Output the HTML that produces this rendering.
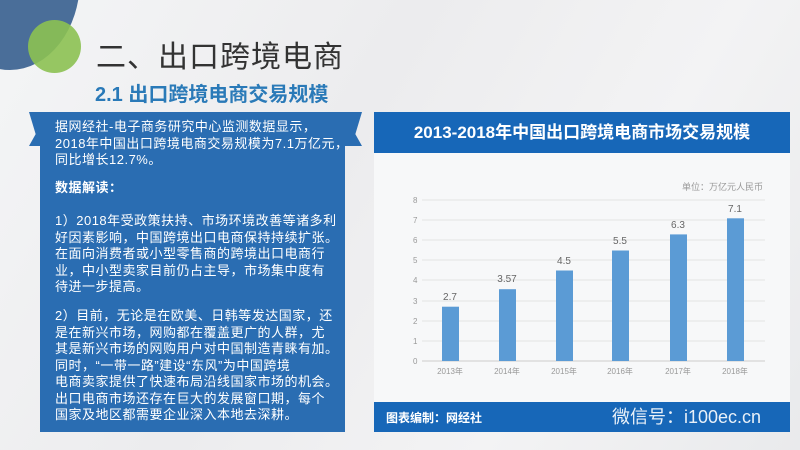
<!DOCTYPE html>
<html><head><meta charset="utf-8"><style>
*{margin:0;padding:0;box-sizing:border-box}
body{width:800px;height:450px;overflow:hidden;position:relative;background:linear-gradient(120deg,#f4f5f6 0%,#ececee 40%,#f3f3f4 70%,#e9eaec 100%);font-family:"Liberation Sans","Noto Sans CJK SC",sans-serif}
.a{position:absolute}
.lt{color:#fff;font-size:13px;line-height:16.5px;white-space:nowrap;letter-spacing:0.5px}
</style></head><body>
<div class="a" style="left:-60px;top:-110px;width:140px;height:180px;border-radius:50%;background:#4a6e99"></div>
<div class="a" style="left:28px;top:20px;width:53px;height:53px;border-radius:50%;background:#8cc152;opacity:.9"></div>
<div class="a" style="left:96px;top:32px;font-size:30px;color:#333;letter-spacing:1px;font-family:'Noto Sans CJK SC',sans-serif;white-space:nowrap">二、出口跨境电商</div>
<div class="a" style="left:95px;top:78px;font-size:20px;color:#2a7ab8;font-weight:bold;white-space:nowrap">2.1 出口跨境电商交易规模</div>

<div class="a" style="left:29px;top:112px;width:333px;height:34px;background:#2a6db2;clip-path:polygon(0 100%,2% 65%,0 0,100% 0,98% 65%,100% 100%)"></div>
<div class="a" style="left:40px;top:112px;width:305px;height:320px;background:#2a6db2"></div>
<div class="a lt" style="left:55px;top:119px">据网经社-电子商务研究中心监测数据显示，<br>2018年中国出口跨境电商交易规模为7.1万亿元，<br>同比增长12.7%。</div>
<div class="a lt" style="left:55px;top:180px;font-weight:bold">数据解读：</div>
<div class="a lt" style="left:55px;top:213px">1）2018年受政策扶持、市场环境改善等诸多利<br>好因素影响，中国跨境出口电商保持持续扩张。<br>在面向消费者或小型零售商的跨境出口电商行<br>业，中小型卖家目前仍占主导，市场集中度有<br>待进一步提高。</div>
<div class="a lt" style="left:55px;top:308px">2）目前，无论是在欧美、日韩等发达国家，还<br>是在新兴市场，网购都在覆盖更广的人群，尤<br>其是新兴市场的网购用户对中国制造青睐有加。<br>同时，“一带一路”建设“东风”为中国跨境<br>电商卖家提供了快速布局沿线国家市场的机会。<br>出口电商市场还存在巨大的发展窗口期，每个<br>国家及地区都需要企业深入本地去深耕。</div>

<div class="a" style="left:374px;top:153px;width:416px;height:249px;background:#f7f8f9"></div>
<div class="a" style="left:374px;top:112px;width:416px;height:41px;background:#1767b8"></div>
<div class="a" style="left:374px;top:112px;width:416px;height:41px;color:#fff;font-size:17px;font-weight:bold;text-align:center;line-height:41px;white-space:nowrap">2013-2018年中国出口跨境电商市场交易规模</div>
<div class="a" style="left:374px;top:402px;width:416px;height:30px;background:#1767b8"></div>
<div class="a" style="left:386px;top:409px;color:#fff;font-size:12px;font-weight:bold;white-space:nowrap">图表编制：网经社</div>
<div class="a" style="left:612px;top:402px;color:#fff;font-size:18px;line-height:30px;opacity:.9;white-space:nowrap">微信号：i100ec.cn</div>

<svg class="a" style="left:0;top:0" width="800" height="450">
<g font-family="Liberation Sans,Noto Sans CJK SC,sans-serif" fill="#999" font-size="8">
<text x="763" y="190" text-anchor="end" font-size="9">单位：万亿元人民币</text>
<g stroke="#e3e3e3" stroke-width="1">
<line x1="422" x2="765" y1="200" y2="200"/><line x1="422" x2="765" y1="220" y2="220"/><line x1="422" x2="765" y1="240" y2="240"/><line x1="422" x2="765" y1="260" y2="260"/><line x1="422" x2="765" y1="280" y2="280"/><line x1="422" x2="765" y1="301" y2="301"/><line x1="422" x2="765" y1="321" y2="321"/><line x1="422" x2="765" y1="341" y2="341"/><line x1="422" x2="765" y1="361" y2="361" stroke="#ccc"/>
</g>
<text x="413" y="203">8</text><text x="413" y="223">7</text><text x="413" y="243">6</text><text x="413" y="263">5</text><text x="413" y="283">4</text><text x="413" y="304">3</text><text x="413" y="324">2</text><text x="413" y="344">1</text><text x="413" y="364">0</text>
<g fill="#5b9bd5">
<rect x="442" y="306.7" width="17" height="54.3"/>
<rect x="499" y="289.2" width="17" height="71.8"/>
<rect x="556" y="270.5" width="17" height="90.5"/>
<rect x="612" y="250.5" width="17" height="110.5"/>
<rect x="670" y="234.4" width="17" height="126.6"/>
<rect x="727" y="218.3" width="17" height="142.7"/>
</g>
<g fill="#666" font-size="10" text-anchor="middle">
<text x="450" y="300">2.7</text><text x="507" y="282">3.57</text><text x="564" y="264">4.5</text><text x="620" y="244">5.5</text><text x="678" y="228">6.3</text><text x="735" y="212">7.1</text>
</g>
<g text-anchor="middle">
<text x="450" y="374">2013年</text><text x="507" y="374">2014年</text><text x="564" y="374">2015年</text><text x="620" y="374">2016年</text><text x="678" y="374">2017年</text><text x="735" y="374">2018年</text>
</g>
</g>
</svg>
</body></html>
